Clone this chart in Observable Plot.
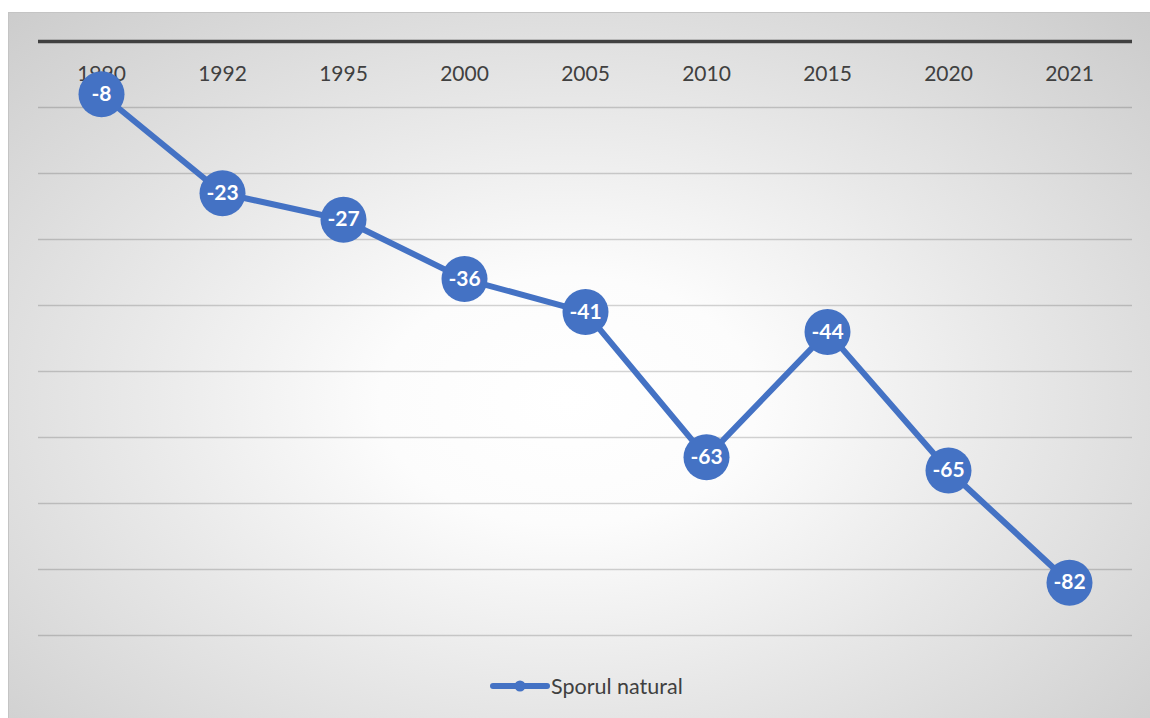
<!DOCTYPE html>
<html>
<head>
<meta charset="utf-8">
<script src="https://cdn.jsdelivr.net/npm/d3@7"></script>
<script src="https://cdn.jsdelivr.net/npm/@observablehq/plot@0.6"></script>
<style>
  html, body { margin: 0; padding: 0; background: #ffffff; }
  #box {
    position: absolute; left: 8px; top: 12px; width: 1142px; height: 706px;
    box-sizing: border-box; border-top: 1px solid #c4c4c4; border-left: 1px solid #c4c4c4;
    background: radial-gradient(ellipse 75% 80% at 49% 55%, #ffffff 0%, #fcfcfc 22%, #e8e8e8 52%, #c9c9c9 100%);
    font-family: Lato, "Open Sans", sans-serif;
  }
  #chart { position: absolute; left: -1px; top: -1px; }
  #legend {
    position: absolute; left: 480px; top: 660px; display: flex; align-items: center;
    font-family: Lato, sans-serif; font-size: 21.5px; color: #404040;
  }
</style>
</head>
<body>
<div id="box">
  <div id="chart"></div>
  <div id="legend"></div>
</div>
<script>
const years = ["1990", "1992", "1995", "2000", "2005", "2010", "2015", "2020", "2021"];
const values = [-8, -23, -27, -36, -41, -63, -44, -65, -82];
const gridValues = [-10, -20, -30, -40, -50, -60, -70, -80, -90];
const seriesName = "Sporul natural";

const data = years.map((y, i) => ({year: y, value: values[i]}));
const blue = "#4472C4";

const plot = Plot.plot({
  width: 1142,
  height: 640,
  marginTop: 29,
  marginBottom: 17,
  marginLeft: 30,
  marginRight: 18,
  style: {background: "transparent", fontFamily: "Lato, sans-serif"},
  x: {type: "point", domain: years, padding: 0.5, axis: null},
  y: {domain: [-90, 0], axis: null},
  marks: [
    Plot.ruleY(gridValues, {stroke: "#000", strokeOpacity: 0.17, strokeWidth: 1.3}),
    Plot.ruleY([0], {stroke: "#404040", strokeWidth: 3.5}),
    Plot.text(years, {x: d => d, frameAnchor: "top", dy: 25, fontSize: 21, fill: "#404040"}),
    Plot.line(data, {x: "year", y: "value", stroke: blue, strokeWidth: 6, strokeLinejoin: "round"}),
    Plot.dot(data, {x: "year", y: "value", r: 23, fill: blue, stroke: "none"}),
    Plot.text(data, {x: "year", y: "value", text: d => String(d.value), fill: "#fff", fontWeight: "bold", fontSize: 21})
  ]
});
document.getElementById("chart").appendChild(plot);

const legend = document.getElementById("legend");
legend.innerHTML = `<svg width="62" height="20"><line x1="4" y1="10" x2="58" y2="10" stroke="${blue}" stroke-width="6" stroke-linecap="round"/><circle cx="31" cy="10" r="5.5" fill="${blue}"/></svg><span></span>`;
legend.querySelector("span").textContent = seriesName;
</script>
</body>
</html>
